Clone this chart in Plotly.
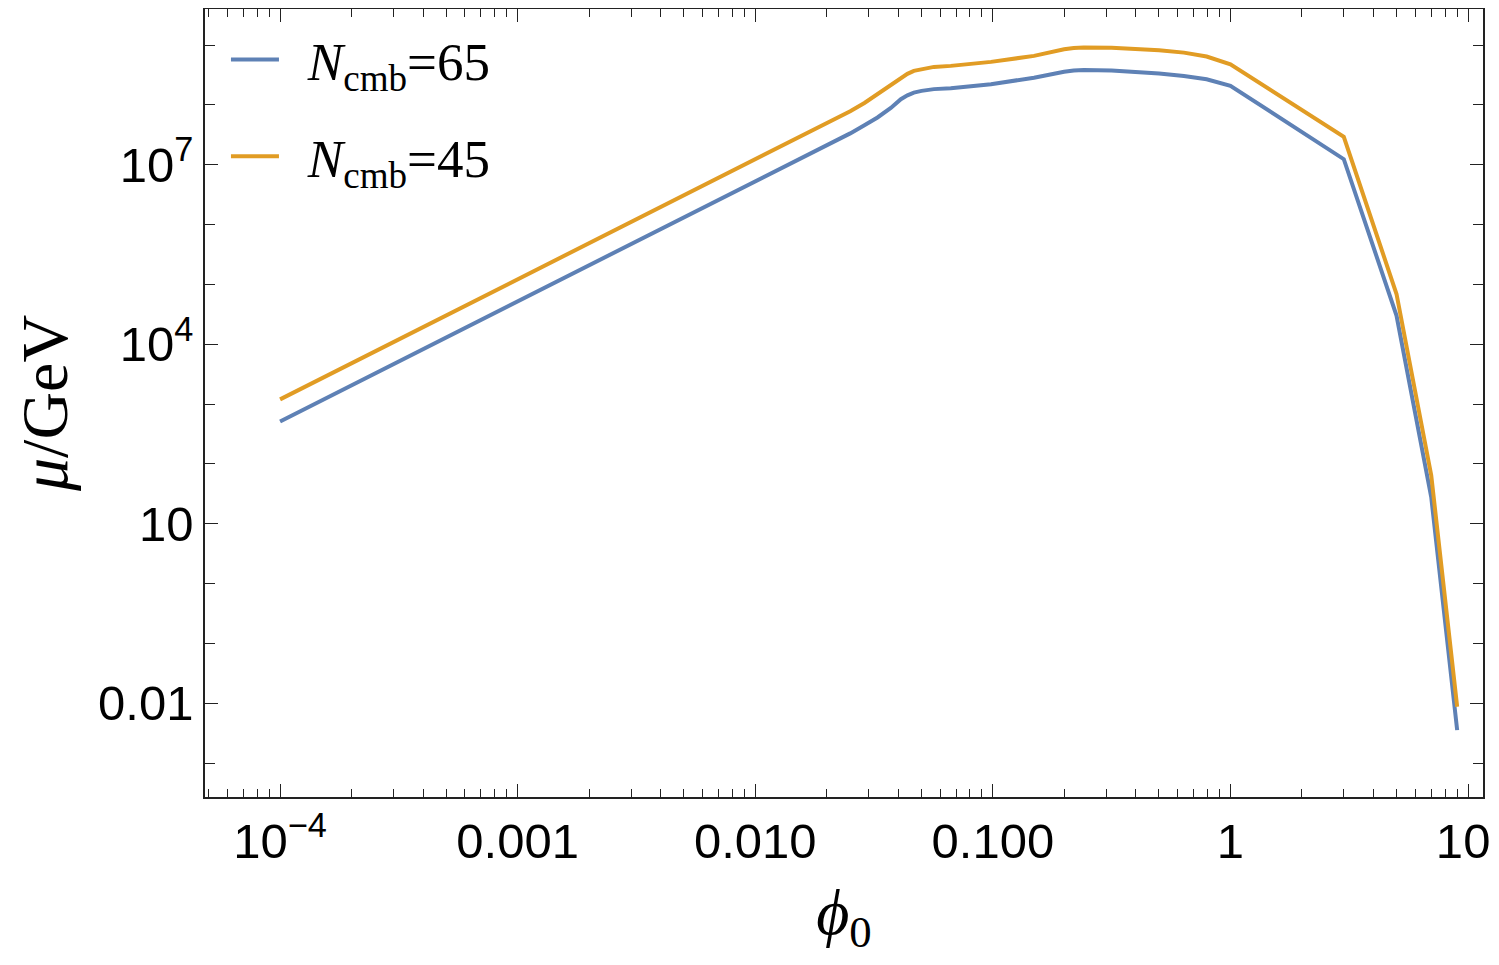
import plotly.graph_objects as go

# phi_0 sample points (shared by both curves)
phi0 = [1e-4, 1e-3, 1e-2, 0.0158, 0.02, 0.0251, 0.0288, 0.0327, 0.0372, 0.041, 0.0437,
        0.0465, 0.0501, 0.0537, 0.0565, 0.0665, 0.0982, 0.149, 0.175, 0.1995,
        0.219, 0.2415, 0.316, 0.393, 0.501, 0.637, 0.794, 1.0, 3.0, 5.0, 7.0, 9.0]

# mu / GeV for N_cmb = 65
mu_n65 = [5.13e2, 5.13e4, 5.13e6, 1.30e7, 2.09e7, 3.35e7, 4.57e7, 6.17e7, 8.91e7, 1.25e8,
          1.45e8, 1.61e8, 1.72e8, 1.80e8, 1.84e8, 1.91e8, 2.22e8, 2.86e8, 3.27e8,
          3.59e8, 3.78e8, 3.85e8, 3.76e8, 3.57e8, 3.35e8, 3.06e8, 2.69e8, 2.09e8,
          1.24e7, 3.02e4, 27.9, 3.55e-3]

# mu / GeV for N_cmb = 45
mu_n45 = [1.20e3, 1.20e5, 1.20e7, 3.02e7, 4.84e7, 7.85e7, 1.08e8, 1.51e8, 2.14e8, 2.86e8,
          3.31e8, 3.71e8, 3.98e8, 4.22e8, 4.33e8, 4.50e8, 5.25e8, 6.61e8, 7.69e8,
          8.51e8, 8.95e8, 9.12e8, 9.02e8, 8.75e8, 8.22e8, 7.50e8, 6.46e8, 4.79e8,
          2.93e7, 6.92e4, 64.6, 8.71e-3]

x_major = [1e-4, 1e-3, 1e-2, 1e-1, 1, 10]
# trailing thin space keeps the last label from running past the page edge
x_labels = ["10<sup>\u22124</sup>", "0.001", "0.010", "0.100", "1", "10\u2009"]
x_minor = [m * 10.0 ** e for e in range(-5, 2) for m in range(2, 10)]

y_major = [1e-2, 1e1, 1e4, 1e7]
y_labels = ["0.01", "10", "10<sup>4</sup>", "10<sup>7</sup>"]
y_minor = [10.0 ** e for e in range(-3, 10)]

BLUE = "#5E81B5"
ORANGE = "#E19C24"
AXIS = "#222222"
SANS = "Liberation Sans, Arial, sans-serif"
SERIF = "Liberation Serif, Times New Roman, serif"

fig = go.Figure()
fig.add_trace(go.Scatter(
    x=phi0, y=mu_n65, mode="lines", name="\u00a0\u2009<i>N</i><sub>cmb</sub>=65",
    line=dict(color=BLUE, width=4), legendgroup="a",
))
fig.add_trace(go.Scatter(
    x=phi0, y=mu_n45, mode="lines", name="\u00a0\u2009<i>N</i><sub>cmb</sub>=45",
    line=dict(color=ORANGE, width=4), legendgroup="b",
))

axis_common = dict(
    type="log", showgrid=False, zeroline=False, showline=True,
    linecolor=AXIS, linewidth=1.5, mirror="allticks",
    ticks="inside", tickcolor=AXIS, tickwidth=1.3, ticklen=13,
    tickfont=dict(family=SANS, size=49, color="black"),
    ticklabeloverflow="allow", automargin=False,
)

# page body has an 8px margin: size the figure so the page does not scroll
fig.update_layout(
    width=1483, height=949,
    paper_bgcolor="white", plot_bgcolor="white",
    margin=dict(l=197, r=8, t=1, b=160, autoexpand=False),
    showlegend=True,
    legend=dict(
        x=0.0164, y=0.988, xanchor="left", yanchor="top",
        bgcolor="rgba(0,0,0,0)", tracegroupgap=25, itemwidth=48,
        font=dict(family=SERIF, size=53, color="black"),
    ),
    xaxis=dict(
        axis_common, range=[-4.316, 1.063],
        tickmode="array", tickvals=x_major, ticktext=x_labels,
        minor=dict(tickmode="array", tickvals=x_minor, ticks="inside",
                   ticklen=8, tickcolor=AXIS, tickwidth=1.0),
        title=dict(text="<i>\u03d5</i><sub>0</sub>", standoff=35,
                   font=dict(family=SERIF, size=64, color="black")),
    ),
    yaxis=dict(
        axis_common, range=[-3.568, 9.604],
        tickmode="array", tickvals=y_major, ticktext=y_labels,
        minor=dict(tickmode="array", tickvals=y_minor, ticks="inside",
                   ticklen=10, tickcolor=AXIS, tickwidth=1.0),
        title=dict(text="<i>\u03bc</i>/GeV", standoff=18,
                   font=dict(family=SERIF, size=66, color="black")),
    ),
)

fig.write_html("out.html")
